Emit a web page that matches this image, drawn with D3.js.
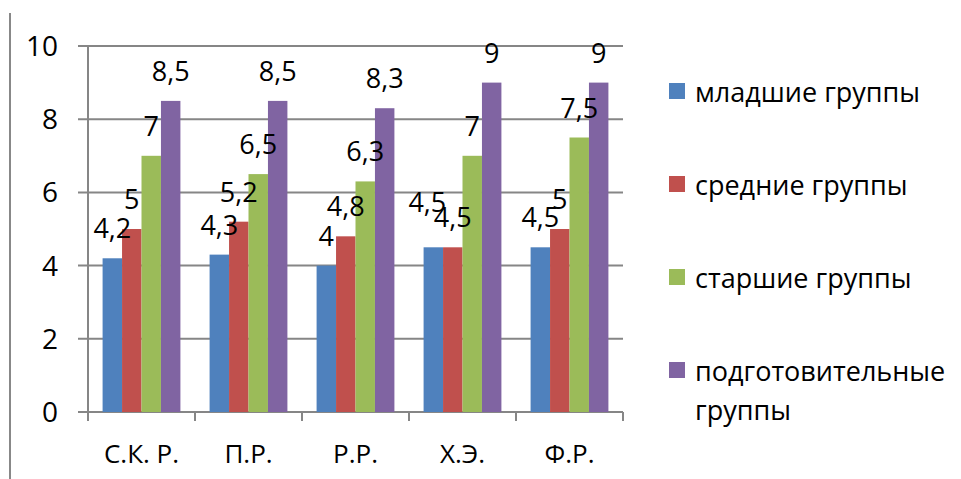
<!DOCTYPE html>
<meta charset="utf-8">
<style>
body { margin: 0; background: #fff; }
text { font-family: "Open Sans", sans-serif; fill: #000; }
</style>
<body>
<div id="chart"></div>
<script src="https://cdn.jsdelivr.net/npm/d3@7"></script>
<script>

// Data for chart
var categories = ["С.К. Р.", "П.Р.", "Р.Р.", "Х.Э.", "Ф.Р."];
var seriesNames = ["младшие группы", "средние группы", "старшие группы", "подготовительные группы"];
var young   = [4.2, 4.3, 4.0, 4.5, 4.5];
var middle  = [5.0, 5.2, 4.8, 4.5, 5.0];
var senior  = [7.0, 6.5, 6.3, 7.0, 7.5];
var prep    = [8.5, 8.5, 8.3, 9.0, 9.0];
var yTicks  = [0, 2, 4, 6, 8, 10];

var colors = ["#4F81BD", "#C0504D", "#9BBB59", "#8064A2"];

var width = 961, height = 479;
var svg = d3.select("#chart").append("svg")
    .attr("width", width).attr("height", height);

var values = [young, middle, senior, prep];
var rows = [];
categories.forEach(function(c, i) {
  values.forEach(function(v, s) {
    rows.push({cat: c, s: s, v: v[i], ci: i});
  });
});

// scales
var xScale = d3.scaleBand().domain(categories).range([88, 623]);
var bw = xScale.bandwidth();
var barW = bw / 5.5;
var x1 = d3.scaleBand().domain(d3.range(4)).range([0.75 * barW, bw - 0.75 * barW]);
var yScale = d3.scaleLinear().domain([0, 10]).range([412, 46]);

// left border line
svg.append("line")
   .attr("x1", 10).attr("x2", 10).attr("y1", 13).attr("y2", height)
   .attr("stroke", "#888").attr("stroke-width", 2);

// gridlines (extend left as ticks)
svg.append("g").selectAll("line")
   .data(yTicks)
   .enter().append("line")
   .attr("x1", 78).attr("x2", 623)
   .attr("y1", function(d) { return yScale(d); })
   .attr("y2", function(d) { return yScale(d); })
   .attr("stroke", "#868686").attr("stroke-width", 2);

// y axis line
svg.append("line")
   .attr("x1", 88).attr("x2", 88).attr("y1", 46).attr("y2", 412)
   .attr("stroke", "#868686").attr("stroke-width", 2);

// x ticks at category boundaries
var bounds = categories.map(function(c) { return xScale(c); }).concat([xScale.range()[1]]);
svg.append("g").selectAll("line")
   .data(bounds)
   .enter().append("line")
   .attr("x1", function(d) { return d; }).attr("x2", function(d) { return d; })
   .attr("y1", 412).attr("y2", 421)
   .attr("stroke", "#868686").attr("stroke-width", 2);

// y labels
svg.append("g").selectAll("text")
   .data(yTicks)
   .enter().append("text")
   .attr("x", 58)
   .attr("y", function(d) { return yScale(d); })
   .attr("dy", "0.36em")
   .attr("text-anchor", "end")
   .attr("font-size", 28)
   .text(function(d) { return d; });

// x labels
svg.append("g").selectAll("text")
   .data(categories)
   .enter().append("text")
   .attr("x", function(d) { return xScale(d) + bw / 2; })
   .attr("y", 463)
   .attr("text-anchor", "middle")
   .attr("font-size", 26)
   .text(function(d) { return d; });

// bars
svg.append("g").selectAll("rect")
   .data(rows)
   .enter().append("rect")
   .attr("x", function(d) { return xScale(d.cat) + x1(d.s); })
   .attr("y", function(d) { return yScale(d.v); })
   .attr("width", x1.bandwidth())
   .attr("height", function(d) { return yScale(0) - yScale(d.v); })
   .attr("fill", function(d) { return colors[d.s]; });

// data labels (one was moved by hand in the original)
svg.append("g").selectAll("text")
   .data(rows)
   .enter().append("text")
   .attr("x", function(d) {
     var nudge = (d.ci == 3 && d.s == 0) ? -6 : 0;
     return xScale(d.cat) + x1(d.s) + x1.bandwidth() / 2 + nudge;
   })
   .attr("y", function(d) {
     var nudge = (d.ci == 3 && d.s == 0) ? -15 : 0;
     return yScale(d.v) - 20 + nudge;
   })
   .attr("text-anchor", "middle")
   .attr("font-size", 27)
   .text(function(d) { return String(d.v).replace(".", ","); });

// legend
var legend = svg.append("g").selectAll("g")
   .data(seriesNames)
   .enter().append("g")
   .attr("transform", function(d, i) { return "translate(669," + (91 + i * 93) + ")"; });

legend.append("rect")
   .attr("x", 0).attr("y", -8)
   .attr("width", 16).attr("height", 16)
   .attr("fill", function(d, i) { return colors[i]; });

legend.append("text")
   .attr("x", 26).attr("y", 11)
   .attr("font-size", 27)
   .each(function(d) {
     var parts = d == "подготовительные группы" ? ["подготовительные", "группы"] : [d];
     var t = d3.select(this);
     parts.forEach(function(p, k) {
       t.append("tspan").attr("x", 26).attr("dy", k == 0 ? 0 : 39).text(p);
     });
   });

</script>
